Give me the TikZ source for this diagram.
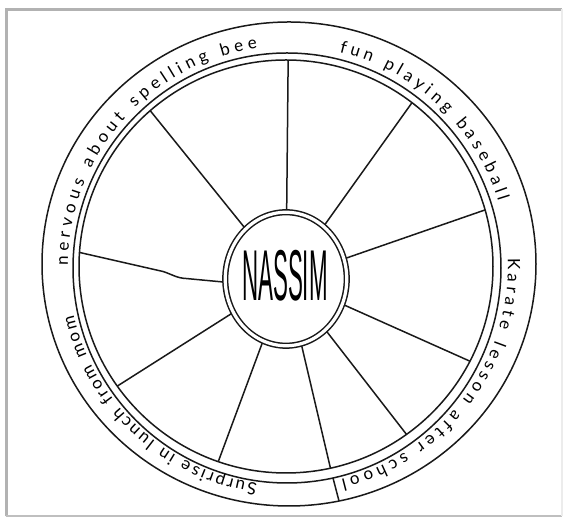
\documentclass[tikz,border=0pt]{standalone}
\usepackage{fontspec}
\setmainfont{Liberation Sans}
\newfontfamily\ringfont{Lato}
\usetikzlibrary{decorations.text,shapes.geometric}
\begin{document}
\begin{tikzpicture}[x=1pt,y=1pt,
  ink/.style={draw=black!90, line width=1.5pt},
  ringtext/.style={decorate, decoration={text along path, text align=fit to path,
     text={|\ringfont\fontsize{17}{17}\selectfont|#1}}}
]
\useasboundingbox (0,0) rectangle (566,518);
\fill[white] (0,0) rectangle (566,518);
% frame
\draw[gray!60, line width=3pt] (6,1.5) -- (6,508.5) -- (562,508.5);
\draw[gray!50, line width=2pt] (6,1.5) -- (562,1.5);
\draw[gray!15, line width=1.5pt] (562,1.5) -- (562,508.5);
% rings
\draw[ink] (289,254) ellipse [x radius=247, y radius=242];
\draw[ink] (287,250) ellipse [x radius=214, y radius=215];
\draw[ink] (286,251.5) ellipse [x radius=207, y radius=206.5];
% hub placeholder
\path node[ellipse, minimum width=121.5pt, minimum height=133.5pt, inner sep=0pt] (hub) at (286,239) {};
% ring ends of spokes
\coordinate (r1) at ([shift={(286,251.5)}]89.4:207 and 206.5);
\coordinate (r2) at ([shift={(286,251.5)}]52.5:207 and 206.5);
\coordinate (r3) at ([shift={(286,251.5)}]15.9:207 and 206.5);
\coordinate (r4) at ([shift={(286,251.5)}]-27.3:207 and 206.5);
\coordinate (r5) at ([shift={(286,251.5)}]-54.4:207 and 206.5);
\coordinate (r6) at ([shift={(286,251.5)}]-77.6:207 and 206.5);
\coordinate (r7) at ([shift={(286,251.5)}]-109.1:207 and 206.5);
\coordinate (r8) at ([shift={(286,251.5)}]-144.6:207 and 206.5);
\coordinate (r9) at ([shift={(286,251.5)}]176.1:207 and 206.5);
\coordinate (r10) at ([shift={(286,251.5)}]131:207 and 206.5);
\coordinate (k1) at (186,239.5);
\coordinate (k2) at (163,246.5);
% spokes
\foreach \i in {1,2,3,4,5,6,7,8,10} {\draw[ink] (hub) -- (r\i);}
\draw[ink, line join=round] (hub.183) -- (k1) .. controls (177,239.8) and (171,244) .. (k2) -- (r9);
% hub
\draw[ink, double=white, double distance=3.2pt, fill=white] (hub.center) ellipse [x radius=60.75, y radius=66.75];
\node (name) at (285,242) {\scalebox{0.62}[2.0]{\fontsize{36}{36}\selectfont NASSIM}};
% separator tick
\coordinate (t1) at (333,40);
\coordinate (t2) at (339,17);
\draw[ink] (t1) -- (t2);
% ring texts
\path[ringtext={nervous about spelling bee}] (288,252) ++(180:220) arc[start angle=180, end angle=98, radius=220];
\path[ringtext={fun playing baseball}] (288,252) ++(76.5:220) arc[start angle=76.5, end angle=17, radius=220];
\path[ringtext={Karate lesson after school}] (288,252) ++(2:220) arc[start angle=2, end angle=-76, radius=220];
\path[ringtext={Surprise in lunch from mom}] (288,252) ++(-98:220) arc[start angle=-98, end angle=-167, radius=220];
\end{tikzpicture}
\end{document}
